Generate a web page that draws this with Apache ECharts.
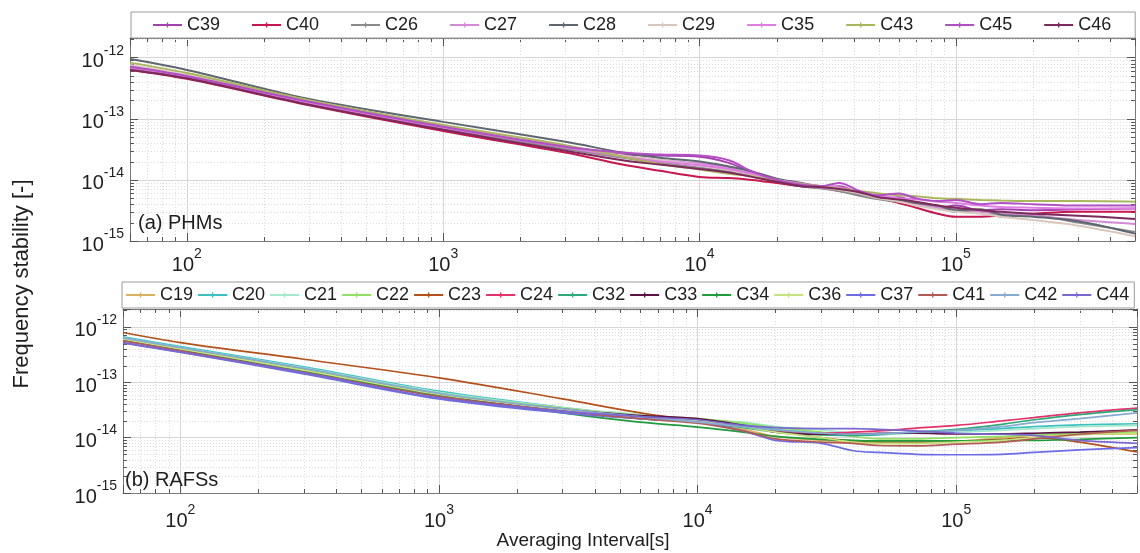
<!DOCTYPE html>
<html>
<head>
<meta charset="utf-8">
<script src="https://cdn.jsdelivr.net/npm/echarts@6/dist/echarts.min.js"></script>
<style>
  html, body { margin: 0; padding: 0; background: #fff; }
  #chart { width: 1140px; height: 553px; }
</style>
</head>
<body>
<div id="chart"></div>
<script>
// Averaging intervals (s) shared by the series of each panel
const TAU_A = [60, 100, 300, 1000, 3000, 5000, 7000, 10000, 13000, 16000, 20000, 25000, 30000,
  35000, 42000, 50000, 60000, 70000, 85000, 100000, 125000, 150000, 200000, 300000, 500000];
const TAU_B = [60, 100, 300, 1000, 3000, 6000, 10000, 15000, 20000, 30000, 40000, 50000, 70000,
  100000, 150000, 200000, 300000, 500000];

// (a) PHMs — frequency stability per clock
const C39 = [6.8e-13, 4.8e-13, 1.8e-13, 7.1e-14, 3.3e-14, 2.6e-14, 2.5e-14, 2.4e-14, 1.9e-14, 1.32e-14, 9.5e-15, 7.9e-15, 7.6e-15, 7.9e-15, 6.0e-15, 5.0e-15, 5.2e-15, 4.2e-15, 3.5e-15, 3.8e-15, 3.2e-15, 3.3e-15, 3.2e-15, 3.3e-15, 3.4e-15];
const C40 = [6.3e-13, 4.5e-13, 1.66e-13, 6.3e-14, 2.8e-14, 1.78e-14, 1.41e-14, 1.12e-14, 1.07e-14, 1.0e-14, 8.9e-15, 7.9e-15, 7.4e-15, 6.6e-15, 5.8e-15, 5.0e-15, 4.2e-15, 3.5e-15, 2.8e-15, 2.5e-15, 2.5e-15, 2.6e-15, 2.8e-15, 3.0e-15, 3.0e-15];
const C26 = [6.8e-13, 4.8e-13, 1.78e-13, 6.9e-14, 3.2e-14, 2.3e-14, 1.9e-14, 1.58e-14, 1.38e-14, 1.2e-14, 9.5e-15, 7.9e-15, 7.2e-15, 6.6e-15, 5.5e-15, 4.8e-15, 4.4e-15, 4.0e-15, 3.6e-15, 3.0e-15, 3.2e-15, 2.5e-15, 2.6e-15, 2.0e-15, 1.41e-15];
const C27 = [7.2e-13, 5.0e-13, 1.9e-13, 7.6e-14, 3.5e-14, 2.5e-14, 2.1e-14, 1.86e-14, 1.58e-14, 1.26e-14, 1.0e-14, 8.3e-15, 7.4e-15, 7.2e-15, 6.0e-15, 5.0e-15, 4.7e-15, 4.0e-15, 3.5e-15, 3.4e-15, 3.0e-15, 2.8e-15, 2.6e-15, 2.2e-15, 1.9e-15];
const C28 = [9.5e-13, 6.3e-13, 2.1e-13, 8.9e-14, 4.2e-14, 2.8e-14, 2.3e-14, 2.0e-14, 1.66e-14, 1.38e-14, 1.05e-14, 8.9e-15, 7.6e-15, 7.1e-15, 6.0e-15, 5.2e-15, 4.7e-15, 4.2e-15, 3.8e-15, 3.2e-15, 3.3e-15, 2.7e-15, 2.5e-15, 2.1e-15, 1.32e-15];
const C29 = [7.6e-13, 5.2e-13, 2.0e-13, 7.9e-14, 3.6e-14, 2.5e-14, 2.1e-14, 1.74e-14, 1.45e-14, 1.2e-14, 1.0e-14, 8.3e-15, 7.6e-15, 6.9e-15, 6.0e-15, 5.0e-15, 4.4e-15, 3.8e-15, 3.3e-15, 3.0e-15, 2.8e-15, 2.5e-15, 2.2e-15, 1.78e-15, 1.2e-15];
const C35 = [6.9e-13, 4.9e-13, 1.82e-13, 7.2e-14, 3.4e-14, 2.4e-14, 2.0e-14, 1.74e-14, 1.51e-14, 1.26e-14, 1.0e-14, 8.7e-15, 7.9e-15, 7.6e-15, 6.3e-15, 5.5e-15, 5.0e-15, 4.8e-15, 4.4e-15, 4.2e-15, 3.8e-15, 3.6e-15, 3.5e-15, 3.4e-15, 3.4e-15];
const C43 = [8.3e-13, 5.6e-13, 2.0e-13, 7.9e-14, 3.7e-14, 2.4e-14, 1.82e-14, 1.48e-14, 1.26e-14, 1.15e-14, 9.5e-15, 8.5e-15, 7.9e-15, 7.2e-15, 6.6e-15, 6.0e-15, 5.6e-15, 5.4e-15, 5.0e-15, 4.9e-15, 4.7e-15, 4.6e-15, 4.5e-15, 4.5e-15, 4.4e-15];
const C45 = [7.1e-13, 5.0e-13, 1.9e-13, 7.4e-14, 3.5e-14, 2.8e-14, 2.6e-14, 2.5e-14, 2.1e-14, 1.38e-14, 1.0e-14, 8.3e-15, 7.9e-15, 8.9e-15, 6.6e-15, 5.6e-15, 6.0e-15, 5.0e-15, 4.5e-15, 4.7e-15, 4.0e-15, 4.2e-15, 4.0e-15, 3.8e-15, 3.8e-15];
const C46 = [6.3e-13, 4.6e-13, 1.7e-13, 6.6e-14, 3.0e-14, 2.1e-14, 1.78e-14, 1.51e-14, 1.32e-14, 1.12e-14, 9.3e-15, 7.9e-15, 7.6e-15, 7.1e-15, 6.3e-15, 5.2e-15, 4.8e-15, 4.4e-15, 3.8e-15, 3.5e-15, 3.2e-15, 3.0e-15, 2.8e-15, 2.6e-15, 2.3e-15];

// (b) RAFSs — frequency stability per clock
const C19 = [6.2e-13, 4.0e-13, 1.7e-13, 6.2e-14, 3.2e-14, 2.2e-14, 1.9e-14, 1.41e-14, 1.05e-14, 8.9e-15, 8.3e-15, 7.9e-15, 7.9e-15, 8.5e-15, 1.0e-14, 1.1e-14, 1.15e-14, 1.17e-14];
const C20 = [6.6e-13, 4.4e-13, 1.9e-13, 6.9e-14, 3.5e-14, 2.5e-14, 2.0e-14, 1.74e-14, 1.41e-14, 1.2e-14, 1.1e-14, 1.12e-14, 1.26e-14, 1.32e-14, 1.45e-14, 1.58e-14, 1.7e-14, 1.78e-14];
const C21 = [6.3e-13, 4.2e-13, 1.82e-13, 6.6e-14, 3.5e-14, 2.6e-14, 2.1e-14, 1.9e-14, 1.58e-14, 1.38e-14, 1.2e-14, 1.15e-14, 1.2e-14, 1.26e-14, 1.35e-14, 1.45e-14, 1.58e-14, 1.66e-14];
const C22 = [6.2e-13, 4.1e-13, 1.74e-13, 6.3e-14, 3.4e-14, 2.5e-14, 2.2e-14, 1.82e-14, 1.51e-14, 1.26e-14, 1.05e-14, 9.5e-15, 9.5e-15, 1.0e-14, 1.05e-14, 1.12e-14, 1.2e-14, 1.26e-14];
const C23 = [7.9e-13, 5.2e-13, 2.6e-13, 1.2e-13, 5.0e-14, 2.8e-14, 2.0e-14, 1.58e-14, 1.32e-14, 1.0e-14, 8.7e-15, 8.3e-15, 8.3e-15, 8.5e-15, 9.3e-15, 1.0e-14, 8.3e-15, 5.5e-15];
const C24 = [6.0e-13, 4.0e-13, 1.66e-13, 6.0e-14, 3.3e-14, 2.4e-14, 2.0e-14, 1.58e-14, 1.32e-14, 1.2e-14, 1.26e-14, 1.32e-14, 1.48e-14, 1.66e-14, 2.0e-14, 2.3e-14, 2.8e-14, 3.4e-14];
const C32 = [6.0e-13, 4.0e-13, 1.66e-13, 6.0e-14, 3.2e-14, 2.2e-14, 1.9e-14, 1.51e-14, 1.26e-14, 1.12e-14, 1.1e-14, 1.15e-14, 1.26e-14, 1.41e-14, 1.74e-14, 2.1e-14, 2.6e-14, 3.2e-14];
const C33 = [5.8e-13, 3.8e-13, 1.58e-13, 5.8e-14, 3.2e-14, 2.5e-14, 2.2e-14, 1.66e-14, 1.26e-14, 1.15e-14, 1.15e-14, 1.2e-14, 1.2e-14, 1.17e-14, 1.17e-14, 1.2e-14, 1.26e-14, 1.38e-14];
const C34 = [5.9e-13, 3.9e-13, 1.58e-13, 5.6e-14, 2.8e-14, 1.9e-14, 1.55e-14, 1.26e-14, 1.05e-14, 9.3e-15, 8.9e-15, 8.7e-15, 8.7e-15, 8.7e-15, 8.9e-15, 8.9e-15, 9.3e-15, 1.0e-14];
const C36 = [6.0e-13, 4.0e-13, 1.66e-13, 6.0e-14, 3.2e-14, 2.3e-14, 2.0e-14, 1.58e-14, 1.26e-14, 1.0e-14, 8.3e-15, 7.9e-15, 7.9e-15, 8.3e-15, 8.9e-15, 1.0e-14, 1.12e-14, 1.2e-14];
const C37 = [5.1e-13, 3.5e-13, 1.41e-13, 5.0e-14, 2.8e-14, 2.2e-14, 1.9e-14, 1.32e-14, 8.9e-15, 7.9e-15, 5.8e-15, 5.4e-15, 5.0e-15, 4.9e-15, 5.0e-15, 5.4e-15, 6.0e-15, 6.6e-15];
const C41 = [5.6e-13, 3.7e-13, 1.51e-13, 5.5e-14, 3.0e-14, 2.2e-14, 1.82e-14, 1.32e-14, 9.5e-15, 8.3e-15, 7.9e-15, 7.2e-15, 7.1e-15, 7.6e-15, 8.3e-15, 9.5e-15, 1.15e-14, 1.35e-14];
const C42 = [6.3e-13, 4.2e-13, 1.78e-13, 6.3e-14, 3.3e-14, 2.4e-14, 1.9e-14, 1.58e-14, 1.38e-14, 1.2e-14, 1.15e-14, 1.17e-14, 1.26e-14, 1.35e-14, 1.58e-14, 1.86e-14, 2.2e-14, 2.8e-14];
const C44 = [5.2e-13, 3.5e-13, 1.48e-13, 5.2e-14, 3.0e-14, 2.4e-14, 2.1e-14, 1.66e-14, 1.51e-14, 1.45e-14, 1.45e-14, 1.41e-14, 1.32e-14, 1.2e-14, 1.15e-14, 1.1e-14, 8.9e-15, 7.9e-15];

const SERIES_A = [
  ['C39', C39, '#a63fb0'], ['C40', C40, '#c8174f'], ['C26', C26, '#8a8a8a'],
  ['C27', C27, '#d48ad6'], ['C28', C28, '#5e6670'], ['C29', C29, '#d8c7bd'],
  ['C35', C35, '#e07de2'], ['C43', C43, '#a9b65c'], ['C45', C45, '#b24fc4'],
  ['C46', C46, '#7c2a5c']
];
const SERIES_B = [
  ['C19', C19, '#d8b25e'], ['C20', C20, '#3cc0c2'], ['C21', C21, '#a5e8cb'],
  ['C22', C22, '#92e064'], ['C23', C23, '#b4501a'], ['C24', C24, '#e3326c'],
  ['C32', C32, '#2ea878'], ['C33', C33, '#5c1242'], ['C34', C34, '#1f9a3c'],
  ['C36', C36, '#c4e37c'], ['C37', C37, '#6c6ce6'], ['C41', C41, '#b25a56'],
  ['C42', C42, '#86abd4'], ['C44', C44, '#7a68d0']
];

// Axis ranges and minor tick positions
const X_MIN = 60, X_MAX = 500000;
const Y_MIN = 1e-15, Y_MAX = 2.1e-12;
const X_MINOR = [70, 80, 90, 200, 300, 400, 500, 600, 700, 800, 900,
  2000, 3000, 4000, 5000, 6000, 7000, 8000, 9000,
  20000, 30000, 40000, 50000, 60000, 70000, 80000, 90000,
  200000, 300000, 400000];
const Y_MINOR = [2e-15, 3e-15, 4e-15, 5e-15, 6e-15, 7e-15, 8e-15, 9e-15,
  2e-14, 3e-14, 4e-14, 5e-14, 6e-14, 7e-14, 8e-14, 9e-14,
  2e-13, 3e-13, 4e-13, 5e-13, 6e-13, 7e-13, 8e-13, 9e-13, 2e-12];

const FONT = 'Liberation Sans, Arial, sans-serif';
const INK = '#1e1e1e';
const FRAME = '#7a7a7a';

function powLabel(v) {
  const l = Math.log10(v);
  const e = Math.round(l);
  if (Math.abs(l - e) > 1e-6) return '';
  return '{b|10}{s|' + e + '}';
}
const powRich = {
  b: { fontSize: 20, fontFamily: FONT, color: INK, padding: [8, 0, 0, 0] },
  s: { fontSize: 14, fontFamily: FONT, color: INK, verticalAlign: 'top' }
};

function mainX(grid, margin) {
  return {
    type: 'log', gridIndex: grid, min: X_MIN, max: X_MAX, position: 'bottom',
    axisLine: { show: true, lineStyle: { color: FRAME, width: 1 } },
    axisTick: { show: true, inside: true, length: 8, lineStyle: { color: '#555' } },
    axisLabel: { formatter: powLabel, rich: powRich, margin: margin, showMinLabel: true, showMaxLabel: true },
    splitLine: { show: true, lineStyle: { color: '#d6d6d6', width: 1 } }
  };
}
function mirrorX(grid) {
  return {
    type: 'log', gridIndex: grid, min: X_MIN, max: X_MAX, position: 'top',
    axisLine: { show: true, lineStyle: { color: FRAME, width: 1 } },
    axisTick: { show: true, inside: true, length: 8, lineStyle: { color: '#555' } },
    axisLabel: { show: false }, splitLine: { show: false }
  };
}
function mainY(grid) {
  return {
    type: 'log', gridIndex: grid, min: Y_MIN, max: Y_MAX, position: 'left',
    axisLine: { show: true, lineStyle: { color: FRAME, width: 1 } },
    axisTick: { show: true, inside: true, length: 8, lineStyle: { color: '#555' } },
    axisLabel: { formatter: powLabel, rich: powRich, margin: 6 },
    splitLine: { show: true, lineStyle: { color: '#d6d6d6', width: 1 } }
  };
}
function mirrorY(grid) {
  return {
    type: 'log', gridIndex: grid, min: Y_MIN, max: Y_MAX, position: 'right',
    axisLine: { show: true, lineStyle: { color: FRAME, width: 1 } },
    axisTick: { show: true, inside: true, length: 8, lineStyle: { color: '#555' } },
    axisLabel: { show: false }, splitLine: { show: false }
  };
}

// Dotted minor grid lines plus short inside ticks on both edges
function minorSeries(axisIdx, values, vertical) {
  return {
    type: 'custom', xAxisIndex: axisIdx, yAxisIndex: axisIdx, silent: true, z: 1,
    data: values.map(v => vertical ? [v, Y_MIN] : [X_MIN, v]),
    renderItem: function (params, api) {
      const v = api.value(vertical ? 0 : 1);
      let a, b;
      if (vertical) { a = api.coord([v, Y_MIN]); b = api.coord([v, Y_MAX]); }
      else { a = api.coord([X_MIN, v]); b = api.coord([X_MAX, v]); }
      const tick = { stroke: '#555', lineWidth: 1 };
      if (vertical) {
        const x = Math.round(a[0]) + 0.5;
        return { type: 'group', children: [
          { type: 'line', shape: { x1: x, y1: a[1], x2: x, y2: b[1] }, style: { stroke: '#dcdcdc', lineWidth: 1, lineDash: [1, 2] } },
          { type: 'line', shape: { x1: x, y1: a[1], x2: x, y2: a[1] - 4 }, style: tick },
          { type: 'line', shape: { x1: x, y1: b[1], x2: x, y2: b[1] + 4 }, style: tick }
        ] };
      }
      const y = Math.round(a[1]) + 0.5;
      return { type: 'group', children: [
        { type: 'line', shape: { x1: a[0], y1: y, x2: b[0], y2: y }, style: { stroke: '#dcdcdc', lineWidth: 1, lineDash: [1, 2] } },
        { type: 'line', shape: { x1: a[0], y1: y, x2: a[0] + 4, y2: y }, style: tick },
        { type: 'line', shape: { x1: b[0], y1: y, x2: b[0] - 4, y2: y }, style: tick }
      ] };
    }
  };
}

function lineSeries(list, taus, axisIdx, width) {
  return list.map(([name, vals, color]) => ({
    name: name, type: 'line', xAxisIndex: axisIdx, yAxisIndex: axisIdx,
    data: taus.map((t, i) => [t, vals[i]]),
    smooth: 0.35, showSymbol: false, symbol: 'circle', symbolSize: 3,
    color: color, lineStyle: { color: color, width: width }, z: 3,
    emphasis: { disabled: true }
  }));
}

const LEG_ICON = 'path://M0,3H30V4.4H0Z M14.3,2H15.7V5.4H14.3Z';
function legendCfg(names, left, top, gap, pad) {
  return {
    data: names, left: left, top: top, orient: 'horizontal',
    icon: LEG_ICON, itemWidth: 29, itemHeight: 5, itemGap: gap,
    symbolKeepAspect: false, padding: pad, selectedMode: false,
    borderColor: '#9a9a9a', borderWidth: 1, backgroundColor: '#fff', borderRadius: 0,
    textStyle: { fontSize: 18, fontFamily: FONT, color: INK }
  };
}

const chart = echarts.init(document.getElementById('chart'), null, { renderer: 'canvas' });
chart.setOption({
  animation: false,
  backgroundColor: '#fff',
  textStyle: { fontFamily: FONT },
  grid: [
    { left: 130, right: 5, top: 38, bottom: 312 },
    { left: 123, right: 3, top: 309, bottom: 60 }
  ],
  xAxis: [mainX(0, 6), mirrorX(0), mainX(1, 10), mirrorX(1)],
  yAxis: [mainY(0), mirrorY(0), mainY(1), mirrorY(1)],
  legend: [
    legendCfg(SERIES_A.map(s => s[0]), 131, 12, 32, [4, 24, 4, 22]),
    legendCfg(SERIES_B.map(s => s[0]), 122, 282, 5, [4, 5, 4, 4])
  ],
  graphic: [
    { type: 'text', x: 22, y: 284, rotation: Math.PI / 2, silent: true,
      style: { text: 'Frequency stability [-]', fontSize: 22, fontFamily: FONT, fill: INK, align: 'center', verticalAlign: 'middle' } },
    { type: 'text', x: 583, y: 541, silent: true,
      style: { text: 'Averaging Interval[s]', fontSize: 19, fontFamily: FONT, fill: INK, align: 'center', verticalAlign: 'middle' } },
    { type: 'text', x: 138, y: 223, silent: true, z: 10,
      style: { text: '(a) PHMs', fontSize: 20, fontFamily: FONT, fill: INK, align: 'left', verticalAlign: 'middle' } },
    { type: 'text', x: 125, y: 480, silent: true, z: 10,
      style: { text: '(b) RAFSs', fontSize: 20, fontFamily: FONT, fill: INK, align: 'left', verticalAlign: 'middle' } }
  ],
  series: [
    minorSeries(0, X_MINOR, true), minorSeries(0, Y_MINOR, false),
    minorSeries(2, X_MINOR, true), minorSeries(2, Y_MINOR, false),
    ...lineSeries(SERIES_A, TAU_A, 0, 2),
    ...lineSeries(SERIES_B, TAU_B, 2, 1.7)
  ]
});
</script>
</body>
</html>
